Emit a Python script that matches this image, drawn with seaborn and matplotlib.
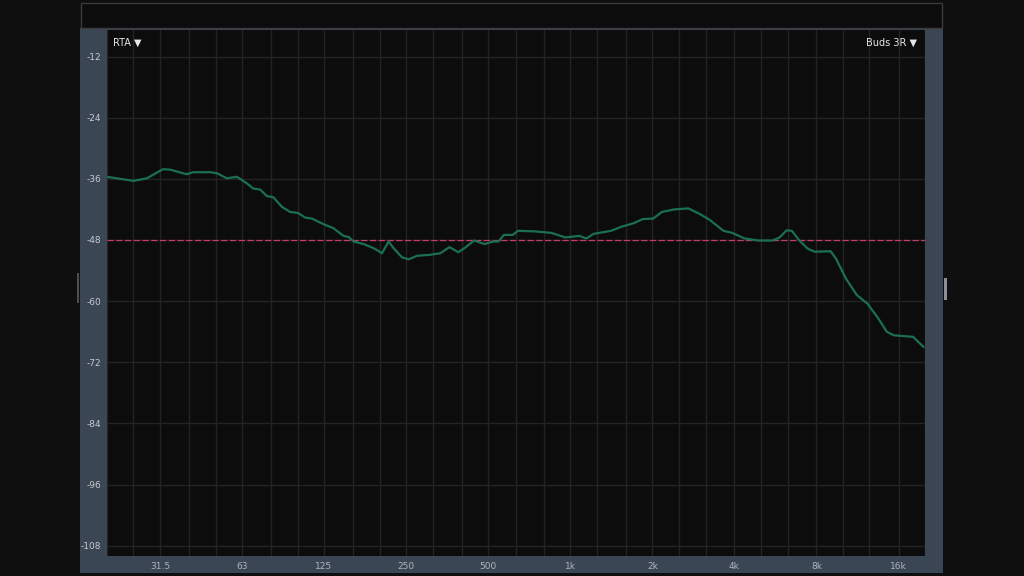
import numpy as np
import pandas as pd
import matplotlib
matplotlib.use("Agg")
import matplotlib.pyplot as plt
from matplotlib.patches import Rectangle
from matplotlib.ticker import NullFormatter
import seaborn as sns

# ---- data ----
freq_hz = [20, 25.0, 28.0, 32.1, 34.1, 39.2, 41.4, 47.8, 50.6, 55.0, 59.9, 65.2, 68.7,
           72.9, 77.2, 81.4, 87.6, 93.9, 100.5, 106.6, 112.9, 124.5, 135.5, 147.4,
           153.8, 160.4, 174.6, 190.0, 204, 215.6, 224.9, 241.5, 255.3, 274.2, 306.8,
           333.8, 360.5, 388.3, 412, 443.8, 485, 522, 546, 571, 615, 643, 735, 852,
           959, 1080, 1146, 1217, 1411, 1541, 1710, 1843, 2014, 2169, 2407, 2710,
           2961, 3238, 3645, 3926, 4356, 4904, 5522, 5858, 6217, 6498, 6894, 7428,
           7880, 9006, 9418, 10290, 11246, 12304, 13446, 14482, 15362, 18088, 19770]
level_db = [-35.6, -36.4, -35.9, -34.1, -34.2, -35.1, -34.7, -34.7, -34.9, -35.9, -35.6,
            -36.9, -37.9, -38.1, -39.4, -39.6, -41.5, -42.5, -42.7, -43.6, -43.8, -44.9,
            -45.7, -47.2, -47.4, -48.3, -48.8, -49.6, -50.6, -48.3, -49.6, -51.4, -51.8,
            -51.1, -50.9, -50.6, -49.4, -50.4, -49.5, -48.1, -48.8, -48.3, -48.3, -47.0,
            -47.0, -46.2, -46.3, -46.6, -47.5, -47.2, -47.7, -46.8, -46.2, -45.4, -44.7,
            -43.9, -43.8, -42.5, -42.0, -41.8, -42.8, -44.0, -46.2, -46.6, -47.7, -48.1,
            -48.1, -47.5, -46.1, -46.2, -48.0, -49.7, -50.3, -50.2, -51.6, -55.7, -58.8,
            -60.5, -63.3, -66.0, -66.7, -67.0, -69.0]
reference_db = -48
y_ticks = [-12, -24, -36, -48, -60, -72, -84, -96, -108]
x_tick_freqs = [31.25, 62.5, 125, 250, 500, 1000, 2000, 4000, 8000, 16000]
x_tick_labels = ["31.5", "63", "125", "250", "500", "1k", "2k", "4k", "8k", "16k"]
grid_freqs = [20, 25, 31.25, 40, 50, 62.5, 80, 100, 125, 160, 200, 250, 315, 400, 500,
              630, 800, 1000, 1250, 1600, 2000, 2500, 3150, 4000, 5000, 6300, 8000,
              10000, 12500, 16000, 20000]
left_label = "RTA \u25BC"
right_label = "Buds 3R \u25BC"

# ---- style ----
sns.set_style("dark")
plt.rcParams['font.family'] = ['DejaVu Sans']

W, H = 1024, 576
fig = plt.figure(figsize=(W / 100, H / 100), dpi=100)
fig.patch.set_facecolor("#0f0f0f")

def fx(px):
    return px / W

def fy(py):
    return 1 - py / H

slate = "#3a4653"
# slate frame around the plot
fig.patches.append(Rectangle((fx(80), fy(573)), fx(943 - 80), (573 - 28) / H,
                             transform=fig.transFigure, facecolor=slate,
                             edgecolor="none", zorder=-5))
# header box
fig.patches.append(Rectangle((fx(81), fy(28)), fx(942 - 81), (28 - 3) / H,
                             transform=fig.transFigure, facecolor="#0c0c0c",
                             edgecolor="#3a3a3a", linewidth=1.0, zorder=-5))
# side handles
fig.patches.append(Rectangle((fx(944), fy(300)), fx(3), 22 / H,
                             transform=fig.transFigure, facecolor="#8a9096",
                             edgecolor="none", zorder=-5))
fig.patches.append(Rectangle((fx(77), fy(303)), fx(2), 30 / H,
                             transform=fig.transFigure, facecolor="#4a4f55",
                             edgecolor="none", zorder=-5))

ax = fig.add_axes([fx(107), fy(556), fx(925 - 107), (556 - 30) / H])
ax.set_zorder(1)
ax.set_facecolor("#0c0c0c")

df = pd.DataFrame({"freq": freq_hz, "level": level_db})
ax.axhline(reference_db, color="#c23d6a", linewidth=0.9, linestyle=(0, (5, 2)), zorder=2)
sns.lineplot(data=df, x="freq", y="level", ax=ax, color="#1b6f54", linewidth=1.6,
             zorder=3)

ax.set_xscale("log")
ax.set_xlim(20, 20000)
ax.set_ylim(-110, -6.8)

ax.set_xticks(x_tick_freqs)
ax.set_xticklabels(x_tick_labels)
ax.set_xticks(grid_freqs, minor=True)
ax.xaxis.set_minor_formatter(NullFormatter())
ax.set_yticks(y_ticks)
ax.set_yticklabels([str(v) for v in y_ticks])

ax.grid(False)
ax.grid(True, which="both", axis="x", color="#232323", linewidth=1.0)
ax.grid(True, which="major", axis="y", color="#232323", linewidth=1.0)
ax.tick_params(axis="both", which="both", length=0)
ax.tick_params(axis="x", which="major", colors="#aeb6bd", labelsize=6.5, pad=4)
ax.tick_params(axis="y", colors="#c7cbcf", labelsize=6.5, pad=4)
ax.set_xlabel("")
ax.set_ylabel("")
for s in ax.spines.values():
    s.set_visible(False)

ax.text(0.007, 0.985, left_label, transform=ax.transAxes, ha="left", va="top",
        color="#e6e6e6", fontsize=7)
ax.text(0.99, 0.985, right_label, transform=ax.transAxes, ha="right", va="top",
        color="#e6e6e6", fontsize=7)

fig.savefig("out.png", dpi=100, facecolor=fig.get_facecolor())
